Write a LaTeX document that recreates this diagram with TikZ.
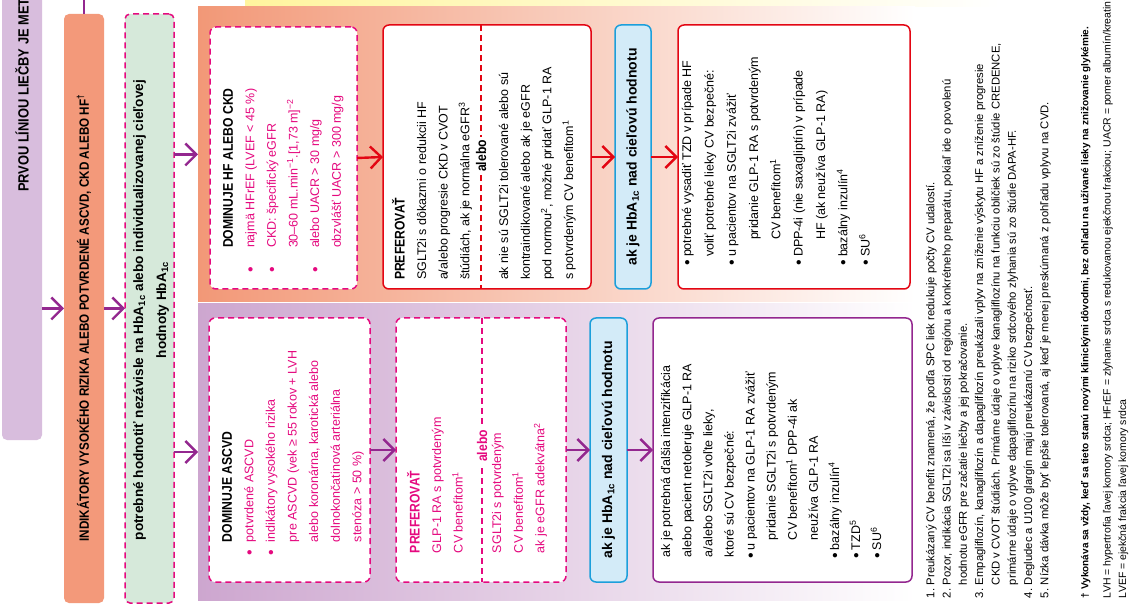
\documentclass[tikz,border=0pt]{standalone}
\usepackage{fontspec}
\setmainfont{Liberation Sans}
\newfontfamily\hfont{Liberation Sans}[FakeStretch=0.87]
\usetikzlibrary{arrows.meta,calc}
\definecolor{orgbox}{HTML}{F3997A}
\definecolor{orgpanel}{HTML}{F29877}
\definecolor{purpbox}{HTML}{D8BDDD}
\definecolor{purppanel}{HTML}{CDA6CF}
\definecolor{greenbox}{HTML}{D6E9DA}
\definecolor{mag}{HTML}{E5097F}
\definecolor{myred}{HTML}{E30613}
\definecolor{vio}{HTML}{93278F}
\definecolor{bluebd}{HTML}{1C9FDB}
\definecolor{bluefill}{HTML}{D3EBF8}
\definecolor{yel}{HTML}{FFF59E}
\newcommand{\hf}{\hfont\bfseries\fontsize{14}{21.6}\selectfont}
\newcommand{\bul}[1]{\llap{\raisebox{-1.4pt}{\fontsize{16}{16}\selectfont\textbullet}\hspace{#1}}}
\tikzset{
  every node/.style={inner sep=0pt, outer sep=0pt},
  bx/.style={rounded corners=6pt, line width=1.5pt},
  magdash/.style={draw=mag, dash pattern=on 6pt off 4pt, line width=1.5pt},
  panel/.style={inner sep=0pt},
  rtxt/.style={rotate=90, anchor=north west, align=left, font=\fontsize{12.5}{21.6}\selectfont},
  fnt/.style={rotate=90, anchor=north west, align=left, font=\fontsize{11.3}{16.3}\selectfont},
  va/.style={draw=vio, line width=2.4pt, -{Straight Barb[length=11pt,width=22pt]}},
  ra/.style={draw=myred, line width=2.4pt, -{Straight Barb[length=11pt,width=22pt]}},
  hlab/.style={rotate=90, font=\bfseries\fontsize{14}{20}\selectfont},
  alebolab/.style={rotate=90, fill=white, inner xsep=3pt, font=\hfont\bfseries\fontsize{14}{16}\selectfont},
}
\begin{document}
\begin{tikzpicture}[x=1pt,y=-1pt]
\useasboundingbox (0,0) rectangle (1130,609);
\fill[white] (0,0) rectangle (1130,609);

% top strip
\shade[left color=yel, right color=white] (245,-2) rectangle (1000,7);

% left column
\node[fill=purpbox, rounded corners=5pt, minimum width=40pt, minimum height=452pt] (first) at (22,214) {};
\node[rotate=90, anchor=west, font=\hfont\bfseries\fontsize{14.8}{16}\selectfont] (firstT) at (22,192) {PRVOU LÍNIOU LIEČBY JE MET};
\node[fill=orgbox, rounded corners=5pt, minimum width=40pt, minimum height=589pt] (ind) at (84,308.5) {};
\node[rotate=90, font=\hfont\bfseries\fontsize{13.4}{16}\selectfont] (indT) at (84,318) {INDIKÁTORY VYSOKÉHO RIZIKA ALEBO POTVRDENÉ ASCVD, CKD ALEBO HF\textsuperscript{†}};
\node[bx, magdash, fill=greenbox, rounded corners=5pt, minimum width=49pt, minimum height=589pt] (eval) at (149.5,308.5) {};
\node[rotate=90, align=center, font=\bfseries\fontsize{13.6}{23}\selectfont] (evalT) at (151,310) {potrebné hodnotiť nezávisle na HbA\textsubscript{1c} alebo individualizovanej cieľovej\\hodnoty HbA\textsubscript{1c}};

% panels
\node[panel, left color=orgpanel, right color=white, minimum width=717pt, minimum height=295pt] (hfpanel) at (556.5,154.5) {};
\node[panel, left color=purppanel, right color=white, minimum width=717pt, minimum height=296pt] (ascpanel) at (556.5,452) {};

% top row boxes
\node[bx, magdash, fill=white, minimum width=147pt, minimum height=262pt] (hfbox) at (283.5,158) {};
\node[bx, draw=myred, fill=white, minimum width=208pt, minimum height=264pt] (pref1) at (487,157) {};
\node[bx, draw=bluebd, fill=bluefill, minimum width=36pt, minimum height=264pt] (blue1) at (633,157) {};
\node[bx, draw=myred, fill=white, minimum width=232pt, minimum height=264pt] (hfopt) at (794,157) {};
% bottom row boxes
\node[bx, magdash, fill=white, minimum width=161pt, minimum height=264pt] (ascbox) at (289.5,450) {};
\node[bx, magdash, fill=white, minimum width=170pt, minimum height=264pt] (pref2) at (481,450) {};
\node[bx, draw=bluebd, fill=bluefill, minimum width=37pt, minimum height=264pt] (blue2) at (608.5,450) {};
\node[bx, draw=vio, fill=white, minimum width=259pt, minimum height=264pt] (ascopt) at (782.5,450) {};

% dividers
\draw[myred, line width=1.5pt, dash pattern=on 6pt off 4pt] (pref1.north -| 481,0) -- (pref1.south -| 481,0);
\node[alebolab] (alebo1) at (481,156) {alebo};
\draw[mag, line width=1.5pt, dash pattern=on 6pt off 4pt] (pref2.north -| 482,0) -- (pref2.south -| 482,0);
\node[alebolab, text=mag] (alebo2) at (482,446) {alebo};

% texts top row
\node[rtxt, text=mag] (hfT) at (223,248) {{\color{black}\hf DOMINUJE HF ALEBO CKD}\\
\bul{19pt}najmä HFrEF (LVEF < 45 \%)\\
\bul{19pt}CKD: špecifický eGFR\\
30–60 mL.min\textsuperscript{−1}.[1,73 m]\textsuperscript{−2}\\
\bul{19pt}alebo UACR > 30 mg/g\\
obzvlášť UACR > 300 mg/g};

\node[rtxt] (pref1a) at (392,280) {{\hf PREFEROVAŤ}\\
SGLT2i s dôkazmi o redukcii HF\\
a/alebo progresie CKD v CVOT\\
štúdiách, ak je normálna eGFR\textsuperscript{3}};
\node[rtxt] (pref1b) at (499,280) {ak nie sú SGLT2i tolerované alebo sú\\
kontraindikované alebo ak je eGFR\\
pod normou\textsuperscript{2}, možné pridať GLP-1 RA\\
s potvrdeným CV benefitom\textsuperscript{1}};

\node[hlab] (blue1T) at (blue1.center) {ak je HbA\textsubscript{1c} nad cieľovú hodnotu};

\node[rtxt, font=\fontsize{12.5}{22.3}\selectfont] (hfoptT) at (682,257) {\bul{3pt}potrebné vysadiť TZD v prípade HF\\
voliť potrebné lieky CV bezpečné:\\
\bul{3pt}u pacientov na SGLT2i zvážiť\\
\hspace*{17pt}pridanie GLP-1 RA s potvrdeným\\
\hspace*{17pt}CV benefitom\textsuperscript{1}\\
\bul{3pt}DPP-4i (nie saxagliptín) v prípade\\
\hspace*{17pt}HF (ak neužíva GLP-1 RA)\\
\bul{3pt}bazálny inzulín\textsuperscript{4}\\
\bul{3pt}SU\textsuperscript{6}};

% texts bottom row
\node[rtxt, text=mag] (ascT) at (222,542) {{\color{black}\hf DOMINUJE ASCVD}\\
\bul{8pt}potvrdené ASCVD\\
\bul{8pt}indikátory vysokého rizika\\
pre ASCVD (vek ≥ 55 rokov + LVH\\
alebo koronárna, karotická alebo\\
dolnokončatinová arteriálna\\
stenóza > 50 \%)};

\node[rtxt, text=mag] (pref2a) at (407,553) {{\hf PREFEROVAŤ}\\
GLP-1 RA s potvrdeným\\
CV benefitom\textsuperscript{1}};
\node[rtxt, text=mag] (pref2b) at (492,553) {SGLT2i s potvrdeným\\
CV benefitom\textsuperscript{1}\\
ak je eGFR adekvátna\textsuperscript{2}};

\node[hlab] (blue2T) at (blue2.center) {ak je HbA\textsubscript{1c} nad cieľovú hodnotu};

\node[rtxt, font=\fontsize{12.5}{21.1}\selectfont] (ascoptT) at (661,557) {ak je potrebná ďalšia intenzifikácia\\
alebo pacient netoleruje GLP-1 RA\\
a/alebo SGLT2i voľte lieky,\\
ktoré sú CV bezpečné:\\
\hspace*{7pt}\bul{3pt}u pacientov na GLP-1 RA zvážiť\\
\hspace*{17pt}pridanie SGLT2i s potvrdeným\\
\hspace*{17pt}CV benefitom\textsuperscript{1} DPP-4i ak\\
\hspace*{17pt}neužíva GLP-1 RA\\
\hspace*{7pt}\bul{3pt}bazálny inzulín\textsuperscript{4}\\
\hspace*{7pt}\bul{3pt}TZD\textsuperscript{5}\\
\hspace*{7pt}\bul{3pt}SU\textsuperscript{6}};

% connectors
\coordinate (topin) at (84,-1);
\draw[vio, line width=2.4pt] (topin) -- (ind.north);
\draw[va] (first.east |- ind.west) -- (ind.west);
\draw[va] (ind.east) -- (eval.west);
\draw[va] (eval.east |- hfpanel.west) -- (hfpanel.west);
\draw[va] (eval.east |- ascpanel.west) -- (ascpanel.west);
\draw[ra] (hfbox.east) -- (pref1.west);
\draw[ra] (pref1.east) -- (blue1.west);
\draw[ra] (blue1.east) -- (hfopt.west);
\draw[va] (ascbox.east) -- (pref2.west);
\draw[va] (pref2.east) -- (blue2.west);
\draw[va] (blue2.east) -- (ascopt.west);

% footnotes
\node[fnt] (fn) at (926,598) {\makebox[13pt][l]{1.}Preukázaný CV benefit znamená, že podľa SPC liek redukuje počty CV udalostí.\\
\makebox[13pt][l]{2.}Pozor, indikácia SGLT2i sa líši v závislosti od regiónu a konkrétneho preparátu, pokiaľ ide o povolenú\\
\hspace*{13pt}hodnotu eGFR pre začatie liečby a jej pokračovanie.\\
\makebox[13pt][l]{3.}Empagliflozín, kanagliflozín a dapagliflozín preukázali vplyv na zníženie výskytu HF a zníženie progresie\\
\hspace*{13pt}CKD v CVOT štúdiách. Primárne údaje o vplyve kanagliflozínu na funkciu obličiek sú zo štúdie CREDENCE,\\
\hspace*{13pt}primárne údaje o vplyve dapagliflozínu na riziko srdcového zlyhania sú zo štúdie DAPA-HF.\\
\makebox[13pt][l]{4.}Degludec a U100 glargín majú preukázanú CV bezpečnosť.\\
\makebox[13pt][l]{5.}Nízka dávka môže byť lepšie tolerovaná, aj keď je menej preskúmaná z pohľadu vplyvu na CVD.};
\node[fnt, font=\bfseries\fontsize{10}{16}\selectfont] (dag) at (1081,598) {† Vykonáva sa vždy, keď sa tieto stanú novými klinickými dôvodmi, bez ohľadu na užívané lieky na znižovanie glykémie.};
\node[fnt, font=\fontsize{10.5}{15.5}\selectfont] (abbr) at (1103,598) {LVH = hypertrofia ľavej komory srdca; HFrEF = zlyhanie srdca s redukovanou ejekčnou frakciou; UACR = pomer albumín/kreatinín\\
LVEF = ejekčná frakcia ľavej komory srdca};
\end{tikzpicture}
\end{document}
